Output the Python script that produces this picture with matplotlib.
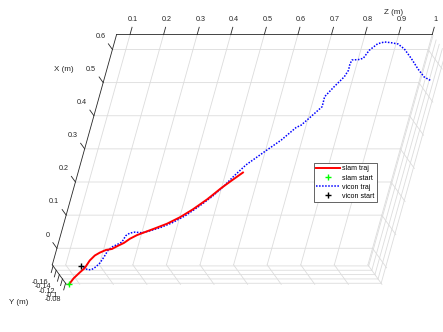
import numpy as np
import matplotlib
matplotlib.use("Agg")
import matplotlib.pyplot as plt
from mpl_toolkits.mplot3d import proj3d

plt.rcParams["font.family"] = ["Liberation Sans", "DejaVu Sans"]

# ---- trajectories (metres) ----
slam_x = [-0.050, -0.035, -0.020, -0.007, 0.013, 0.028, 0.034, 0.042, 0.045, 0.051, 0.060,
          0.070, 0.081, 0.090, 0.098, 0.112, 0.129, 0.153, 0.183, 0.213, 0.237, 0.258]
slam_y = [-0.075, -0.080, -0.084, -0.084, -0.089, -0.089, -0.093, -0.093, -0.093, -0.098, -0.098,
          -0.102, -0.102, -0.102, -0.107, -0.107, -0.111, -0.111, -0.111, -0.116, -0.116, -0.120]
slam_z = [0.068, 0.080, 0.096, 0.107, 0.119, 0.130, 0.145, 0.161, 0.178, 0.196, 0.212,
          0.229, 0.247, 0.268, 0.298, 0.330, 0.366, 0.398, 0.432, 0.467, 0.493, 0.522]

vicon_x = [-0.006, -0.012, -0.018, -0.017, -0.009, 0.003, 0.018, 0.037, 0.048, 0.055, 0.063, 0.082,
           0.090, 0.090, 0.088, 0.094, 0.103, 0.118, 0.139, 0.164, 0.191, 0.218, 0.254, 0.287,
           0.320, 0.356, 0.394, 0.401, 0.421, 0.451, 0.481, 0.511, 0.541, 0.555, 0.574, 0.586,
           0.587, 0.591, 0.615, 0.638, 0.645, 0.644, 0.643, 0.634, 0.611, 0.585, 0.567, 0.560]
vicon_y = [-0.093, -0.093, -0.093, -0.093, -0.093, -0.093, -0.0975, -0.0975, -0.0975, -0.0975, -0.0975, -0.0975,
           -0.0975, -0.102, -0.102, -0.102, -0.102, -0.102, -0.102, -0.111, -0.111, -0.111, -0.111, -0.111,
           -0.120, -0.120, -0.120, -0.120, -0.129, -0.129, -0.129, -0.129, -0.129, -0.138, -0.138, -0.138,
           -0.138, -0.138, -0.138, -0.1335, -0.1308, -0.129, -0.1245, -0.1155, -0.1065, -0.0975, -0.0885, -0.084]
vicon_z = [0.099, 0.110, 0.124, 0.135, 0.145, 0.154, 0.164, 0.170, 0.179, 0.192, 0.205, 0.211,
           0.221, 0.238, 0.260, 0.282, 0.309, 0.341, 0.374, 0.416, 0.444, 0.467, 0.493, 0.519,
           0.568, 0.609, 0.643, 0.656, 0.684, 0.709, 0.708, 0.728, 0.750, 0.763, 0.762, 0.765,
           0.783, 0.797, 0.808, 0.825, 0.842, 0.861, 0.880, 0.897, 0.920, 0.943, 0.962, 0.980]

series_labels = ["slam traj", "slam start", "vicon traj", "vicon start"]

# ---- axes ----
x_lim = (-0.05, 0.645)
y_lim = (-0.165, -0.075)
z_lim = (0.06, 1.0)
x_ticks = [0, 0.1, 0.2, 0.3, 0.4, 0.5, 0.6]
x_tick_labels = ["0", "0.1", "0.2", "0.3", "0.4", "0.5", "0.6"]
y_ticks = [-0.16, -0.14, -0.12, -0.1, -0.08]
y_tick_labels = ["-0.16", "-0.14", "-0.12", "-0.1", "-0.08"]
z_ticks = [0.1, 0.2, 0.3, 0.4, 0.5, 0.6, 0.7, 0.8, 0.9, 1.0]
z_tick_labels = ["0.1", "0.2", "0.3", "0.4", "0.5", "0.6", "0.7", "0.8", "0.9", "1"]

W, H = 443, 332
AX_COL = "#262626"
GRID_COL = "#dcdcdc"

fig = plt.figure(figsize=(W / 100, H / 100), dpi=100)
fig.patch.set_facecolor("white")
ax = fig.add_axes([0.1, 0.1, 0.8, 0.8], projection="3d", proj_type="ortho")
ax.computed_zorder = False
# matplotlib axes: x <- Z, y <- Y (reversed), z <- X
ax.set_xlim(*z_lim)
ax.set_ylim(y_lim[1], y_lim[0])
ax.set_zlim(*x_lim)
ax.set_box_aspect((1.0, 0.1045, 0.7686))
ax.view_init(elev=28.22, azim=-120.56, roll=-15.6)
ax.set_axis_off()


def line3(X, Y, Z, **kw):
    kw.setdefault("clip_on", False)
    return ax.plot(Z, Y, X, **kw)[0]


def to_pixels(X, Y, Z):
    px, py, _ = proj3d.proj_transform(np.atleast_1d(np.asarray(Z, float)),
                                      np.atleast_1d(np.asarray(Y, float)),
                                      np.atleast_1d(np.asarray(X, float)), ax.get_proj())
    return ax.transData.transform(np.column_stack([px, py]))


x0, x1 = x_lim
y0, y1 = y_lim
z0, z1 = z_lim

# grid on the three back planes
gkw = dict(color=GRID_COL, lw=0.6, zorder=1)
for t in x_ticks:
    line3([t, t], [y0, y0], [z0, z1], **gkw)
    line3([t, t], [y0, y1], [z1, z1], **gkw)
for t in z_ticks:
    line3([x0, x1], [y0, y0], [t, t], **gkw)
    line3([x0, x0], [y0, y1], [t, t], **gkw)
for t in y_ticks:
    line3([x0, x0], [t, t], [z0, z1], **gkw)
    line3([x0, x1], [t, t], [z1, z1], **gkw)

# axis lines and tick marks
akw = dict(color=AX_COL, lw=0.6, zorder=3)
line3([x0, x1], [y0, y0], [z0, z0], **akw)
line3([x1, x1], [y0, y0], [z0, z1], **akw)
line3([x0, x0], [y0, y1], [z0, z0], **akw)
for t in x_ticks:
    line3([t, t], [y0, y0 - 0.026], [z0, z0], **akw)
for t in z_ticks:
    line3([x1, x1 + 0.022], [y0, y0], [t, t], **akw)
for t in y_ticks:
    line3([x0, x0 - 0.02], [t, t], [z0, z0], **akw)

# trajectories
h_slam = line3(slam_x, slam_y, slam_z, color="red", lw=1.4, zorder=5)
h_vicon = line3(vicon_x, vicon_y, vicon_z, color="blue", lw=1.1, ls=(0, (1, 1)), zorder=4)
h_slam_start = line3(slam_x[:1], slam_y[:1], slam_z[:1], ls="none", marker="+",
                     color="#00ff00", ms=4, mew=1.0, zorder=6)
h_vicon_start = line3(vicon_x[:1], vicon_y[:1], vicon_z[:1], ls="none", marker="+",
                      color="black", ms=4, mew=1.0, zorder=6)

# place the box on the canvas
ta = np.array([117.1, H - 34.0])    # (X max, Y min, Z min)
tb = np.array([367.4, H - 265.4])   # (X min, Y min, Z max)
for _ in range(3):
    fig.canvas.draw()
    pa, pb = to_pixels([x1, x0], [y0, y0], [z0, z1])
    s = np.linalg.norm(tb - ta) / np.linalg.norm(pb - pa)
    bb = ax.get_position(original=True)
    c = np.array([(bb.x0 + bb.width / 2) * W, (bb.y0 + bb.height / 2) * H])
    c_new = (ta + tb) / 2 - s * ((pa + pb) / 2 - c)
    w_new, h_new = bb.width * s, bb.height * s
    ax.set_position([c_new[0] / W - w_new / 2, c_new[1] / H - h_new / 2, w_new, h_new])
fig.canvas.draw()

# tick labels, placed at the projected tick positions
tfs = 5.2


def label_at(X, Y, Z, s, **kw):
    p = to_pixels(X, Y, Z)[0]
    fig.text(p[0] / W, p[1] / H, s, fontsize=tfs, color=AX_COL, **kw)


for t, lab in zip(x_ticks, x_tick_labels):
    label_at(t, y0 - 0.045, z0, lab, ha="right", va="bottom")
for t, lab in zip(z_ticks, z_tick_labels):
    label_at(x1 + 0.035, y0, t, lab, ha="center", va="bottom")
for t, lab in zip(y_ticks, y_tick_labels):
    label_at(x0 - 0.05, t, z0, lab, ha="right", va="center")

# axis titles
lfs = 5.8
fig.text(63.5 / W, 1 - 69.5 / H, "X (m)", ha="center", va="center", fontsize=lfs, color=AX_COL)
fig.text(393.5 / W, 1 - 12 / H, "Z (m)", ha="center", va="center", fontsize=lfs, color=AX_COL)
fig.text(19 / W, 1 - 302.5 / H, "Y (m)", ha="center", va="center", fontsize=lfs, color=AX_COL)

leg = fig.legend([h_slam, h_slam_start, h_vicon, h_vicon_start], series_labels,
                 loc="upper left", bbox_to_anchor=(314 / W, 1 - 163 / H),
                 bbox_transform=fig.transFigure, borderaxespad=0, fontsize=5,
                 frameon=True, fancybox=False, edgecolor=AX_COL, framealpha=1,
                 handlelength=3.4, handletextpad=0.25, labelspacing=0.3,
                 borderpad=0.35, numpoints=1)
leg.get_frame().set_linewidth(0.5)

fig.savefig("out.png", dpi=100, facecolor="white")
